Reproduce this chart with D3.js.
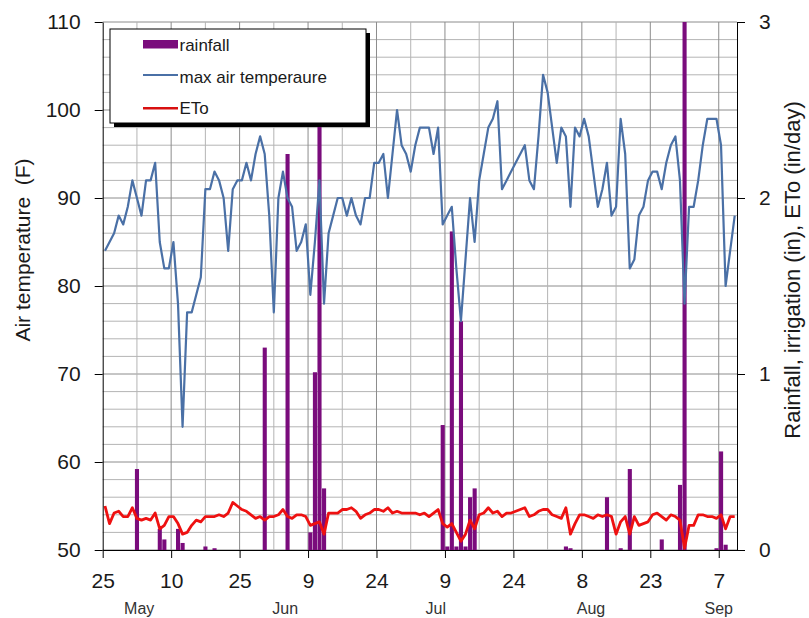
<!DOCTYPE html>
<html>
<head>
<meta charset="utf-8">
<script src="https://cdn.jsdelivr.net/npm/d3@7"></script>
<style>
  body { margin: 0; background: #fff; }
  text { font-family: "Liberation Sans", Arial, sans-serif; fill: #1a1a1a; }
</style>
</head>
<body>
<div id="chart"></div>
<script>
// daily series, first value is Apr 25
const firstDay = "2011-04-25"
const lastDay = "2011-09-11"

const maxTemp = [
  84, 85, 86, 88, 87, 89, 92, 90, 88, 92,
  92, 94, 85, 82, 82, 85, 78, 64, 77, 77,
  79, 81, 91, 91, 93, 92, 90, 84, 91, 92,
  92, 94, 92, 95, 97, 95, 88, 77, 90, 93,
  90, 89, 84, 85, 87, 79, 85, 92, 78, 86,
  88, 90, 90, 88, 90, 88, 87, 90, 90, 94,
  94, 95, 90, 95, 100, 96, 95, 93, 96, 98,
  98, 98, 95, 98, 87, 88, 89, 82, 76, 83,
  90, 85, 92, 95, 98, 99, 101, 91, 92, 93,
  94, 95, 96, 92, 91, 97, 104, 102, 98, 94,
  98, 97, 89, 98, 97, 99, 97, 93, 89, 91,
  94, 88, 89, 99, 95, 82, 83, 88, 89, 92,
  93, 93, 91, 94, 96, 97, 92, 78, 89, 89,
  92, 96, 99, 99, 99, 96, 80, 84, 88
]

const eto = [
  .25, .15, .21, .22, .19, .19, .24, .18, .17, .18,
  .17, .21, .12, .14, .19, .19, .15, .09, .10, .14,
  .17, .16, .19, .19, .19, .20, .19, .21, .27, .25,
  .23, .22, .20, .18, .19, .17, .19, .19, .20, .23,
  .19, .18, .20, .20, .19, .14, .15, .16, .09, .21,
  .21, .21, .23, .23, .24, .22, .18, .20, .21, .23,
  .23, .22, .24, .21, .22, .21, .21, .21, .21, .20,
  .21, .19, .21, .23, .15, .13, .15, .10, .05, .09,
  .17, .12, .20, .21, .24, .21, .22, .19, .21, .21,
  .22, .23, .24, .19, .20, .22, .23, .23, .20, .19,
  .18, .24, .09, .15, .20, .20, .19, .18, .20, .19,
  .20, .19, .09, .16, .19, .09, .19, .14, .15, .16,
  .20, .21, .19, .17, .20, .19, .17, .01, .14, .14,
  .20, .20, .19, .19, .18, .20, .12, .19, .19
]

const rainfall = [
  0, 0, 0, 0, 0, 0, 0, .46, 0, 0,
  0, 0, .12, .06, 0, 0, .12, .04, 0, 0,
  0, 0, .02, 0, .01, 0, 0, 0, 0, 0,
  0, 0, 0, 0, 0, 1.15, 0, 0, 0, 0,
  2.25, 0, 0, 0, 0, .10, 1.01, 2.7, .35, 0,
  0, 0, 0, 0, 0, 0, 0, 0, 0, 0,
  0, 0, 0, 0, 0, 0, 0, 0, 0, 0,
  0, 0, 0, 0, .71, .02, 1.81, .02, 1.30, .02,
  .30, .35, 0, 0, 0, 0, 0, 0, 0, 0,
  0, 0, 0, 0, 0, 0, 0, 0, 0, 0,
  0, .02, .01, 0, 0, 0, 0, 0, 0, 0,
  .30, 0, 0, .01, 0, .46, 0, 0, 0, 0,
  0, 0, .06, 0, 0, 0, .37, 3.2, 0, 0,
  0, 0, 0, 0, .01, .56, .03, 0, 0
]

const tickDates = ["2011-04-25", "2011-05-10", "2011-05-25", "2011-06-09", "2011-06-24",
  "2011-07-09", "2011-07-24", "2011-08-08", "2011-08-23", "2011-09-07"]
const monthNames = ["May", "Jun", "Jul", "Aug", "Sep"]
const monthDates = ["2011-05-03", "2011-06-04", "2011-07-07", "2011-08-10", "2011-09-07"]
const tempTicks = [50, 60, 70, 80, 90, 100, 110]
const rainTicks = [0, 1, 2, 3]
const legendNames = ["rainfall", "max air temperaure", "ETo"]

const width = 809
const height = 618
const margin = {top: 22, right: 72, bottom: 68, left: 102.7}

const purple = "#7a0c7c"
const blue = "#4a70a6"
const red = "#ee1111"

const parse = d3.utcParse("%Y-%m-%d")
const start = parse(firstDay)
const days = maxTemp.map((t, i) => d3.utcDay.offset(start, i))

const svg = d3.select("#chart").append("svg")
  .attr("width", width)
  .attr("height", height)

const x = d3.scaleUtc()
  .domain([start, parse(lastDay)])
  .range([margin.left, width - margin.right])
const yT = d3.scaleLinear()
  .domain([50, 110])
  .range([height - margin.bottom, margin.top])
const yR = d3.scaleLinear()
  .domain([0, 3])
  .range([height - margin.bottom, margin.top])

// day centre (points sit between tick marks)
const xc = i => x(d3.utcHour.offset(days[i], 12))

svg.append("clipPath").attr("id", "plot")
  .append("rect")
  .attr("x", margin.left).attr("y", margin.top)
  .attr("width", width - margin.right - margin.left)
  .attr("height", height - margin.bottom - margin.top)

// gridlines
const grid = svg.append("g")
grid.selectAll(".hg")
  .data(d3.range(50, 111, 2))
  .enter().append("line")
  .attr("x1", margin.left).attr("x2", width - margin.right)
  .attr("y1", d => yT(d)).attr("y2", d => yT(d))
  .attr("stroke", d => d % 10 == 0 ? "#8c8c8c" : "#b4b4b4")
  .attr("stroke-width", 1)
grid.selectAll(".vg")
  .data(d3.range(1, 19).map(i => d3.utcHour.offset(start, i * 180)))
  .enter().append("line")
  .attr("y1", margin.top).attr("y2", height - margin.bottom)
  .attr("x1", d => x(d)).attr("x2", d => x(d))
  .attr("stroke", (d, i) => i % 2 == 1 ? "#8c8c8c" : "#b4b4b4")
  .attr("stroke-width", 1)

// rainfall bars
svg.append("g")
  .attr("clip-path", "url(#plot)")
  .selectAll("rect")
  .data(rainfall.map((v, i) => ({i: i, v: v})).filter(d => d.v > 0))
  .enter().append("rect")
  .attr("x", d => xc(d.i) - 2)
  .attr("width", 4.1)
  .attr("y", d => yR(d.v))
  .attr("height", d => yR(0) - yR(d.v))
  .attr("fill", purple)

// temperature line
svg.append("path")
  .datum(maxTemp)
  .attr("fill", "none")
  .attr("stroke", blue)
  .attr("stroke-width", 2.2)
  .attr("stroke-linejoin", "round")
  .attr("d", d3.line().x((d, i) => xc(i)).y(d => yT(d)))

// ETo line
svg.append("path")
  .datum(eto)
  .attr("fill", "none")
  .attr("stroke", red)
  .attr("stroke-width", 2.8)
  .attr("stroke-linejoin", "round")
  .attr("d", d3.line().x((d, i) => xc(i)).y(d => yR(d)))

// axes
const xAxis = svg.append("g")
  .attr("transform", `translate(0,${height - margin.bottom})`)
  .call(d3.axisBottom(x)
    .tickValues(tickDates.map(parse))
    .tickFormat(d3.utcFormat("%-d"))
    .tickSize(8).tickSizeOuter(0).tickPadding(15))

const yAxis = svg.append("g")
  .attr("transform", `translate(${margin.left},0)`)
  .call(d3.axisLeft(yT).tickValues(tempTicks)
    .tickSize(8).tickSizeOuter(0).tickPadding(14))

const rAxis = svg.append("g")
  .attr("transform", `translate(${width - margin.right},0)`)
  .call(d3.axisRight(yR).tickValues(rainTicks).tickFormat(d3.format("d"))
    .tickSize(8).tickSizeOuter(0).tickPadding(14))

svg.selectAll(".domain, .tick line").attr("stroke", "#000")
svg.selectAll(".tick text")
  .attr("font-size", 21)
  .attr("font-family", "Liberation Sans, Arial, sans-serif")
  .attr("fill", "#1a1a1a")

// month names under the day ticks
svg.append("g").selectAll("text")
  .data(monthNames)
  .enter().append("text")
  .attr("x", (d, i) => x(parse(monthDates[i])))
  .attr("y", 614)
  .attr("text-anchor", "middle")
  .attr("font-size", 16)
  .style("fill", "#333")
  .text(d => d)

// axis titles
svg.append("text")
  .attr("transform", "translate(30,250) rotate(-90)")
  .attr("text-anchor", "middle")
  .attr("font-size", 21)
  .style("white-space", "pre")
  .text("Air temperature  (F)")

svg.append("text")
  .attr("transform", "translate(800,270) rotate(-90)")
  .attr("text-anchor", "middle")
  .attr("font-size", 22)
  .text("Rainfall, irrigation (in), ETo (in/day)")

// legend
const legend = svg.append("g")
legend.append("rect")
  .attr("x", 114).attr("y", 33).attr("width", 256).attr("height", 94)
  .attr("fill", "#000")
legend.append("rect")
  .attr("x", 110).attr("y", 29).attr("width", 256).attr("height", 94)
  .attr("fill", "#fff").attr("stroke", "#000").attr("stroke-width", 1)

legend.append("rect")
  .attr("x", 143).attr("y", 40).attr("width", 35).attr("height", 8.5)
  .attr("fill", purple)
legend.append("line")
  .attr("x1", 143).attr("x2", 178).attr("y1", 75).attr("y2", 75)
  .attr("stroke", blue).attr("stroke-width", 2)
legend.append("line")
  .attr("x1", 143).attr("x2", 178).attr("y1", 108.3).attr("y2", 108.3)
  .attr("stroke", "#d81010").attr("stroke-width", 2.4)

legend.selectAll(".lt")
  .data(legendNames)
  .enter().append("text")
  .attr("x", 179.5)
  .attr("y", (d, i) => [50.7, 82.7, 114][i])
  .attr("font-size", 17)
  .text(d => d)
</script>
</body>
</html>
